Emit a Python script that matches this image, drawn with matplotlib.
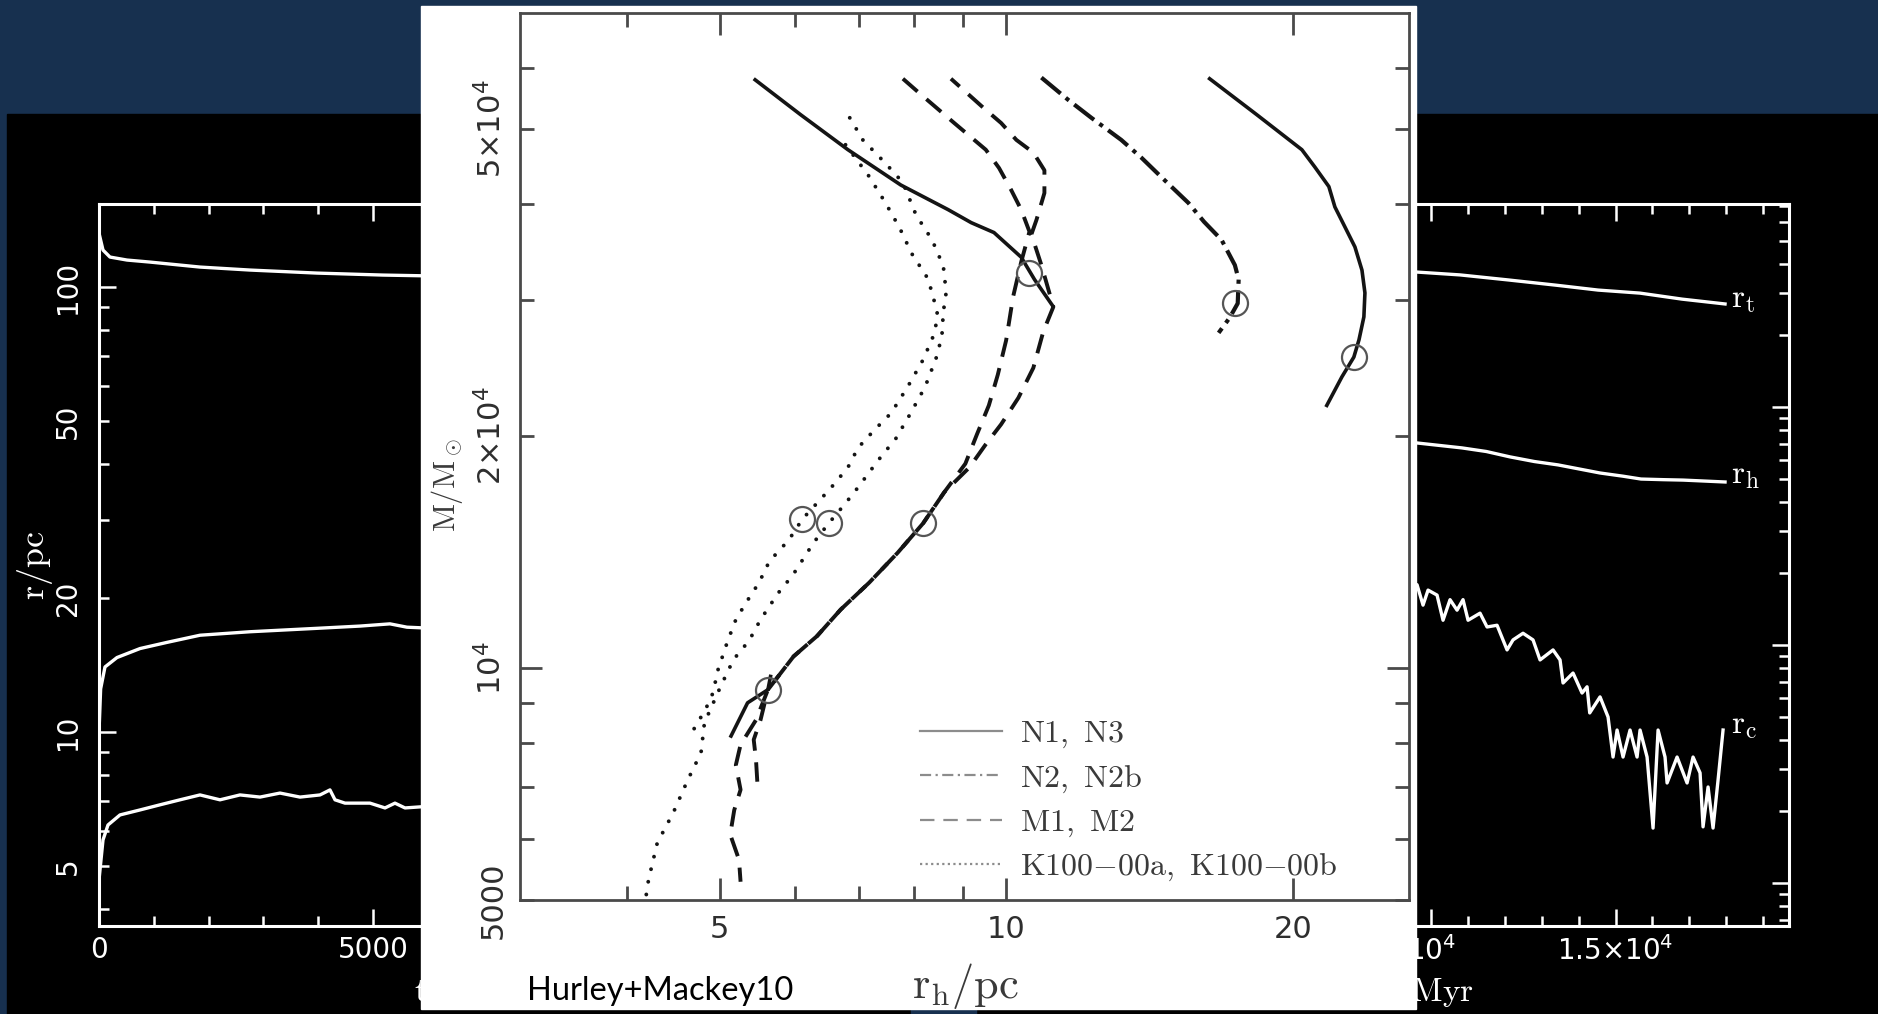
import numpy as np
import matplotlib
matplotlib.use('Agg')
import matplotlib.pyplot as plt
from matplotlib.lines import Line2D
from matplotlib.patches import Rectangle
from matplotlib.ticker import FixedLocator, FuncFormatter, NullFormatter

plt.rcParams['font.family'] = ['DejaVu Sans']

W, H = 1878, 1014

# ---- front figure: half-mass radius r_h [pc] vs cluster mass [Msun]
n1_rh = [5.43, 6.08, 6.82, 7.75, 8.69, 9.19, 9.71, 10.37, 10.71, 11.21, np.nan, 5.66, 5.62, 5.35, 5.13]
n1_m = [58100, 52200, 47000, 42300, 39300, 37800, 36700, 34100, 31900, 29400, np.nan, 9800, 9370, 9010, 8120]

n3_rh = [16.36, 18.33, 20.45, 21.10, 21.83, 22.15, 22.69, 23.25, 23.65, 23.82, 23.76, 23.48, 23.19, 22.53, 21.72]
n3_m = [58100, 52200, 47000, 44640, 42100, 39620, 37340, 35160, 32800, 30650, 28530, 26640, 25300, 23850, 21900]

n2_rh = [10.89, 11.63, 12.29, 13.21, 13.87, 14.56, 15.54, 16.14, 16.84, 17.39, 17.55, 17.51, 17.17, 16.72]
n2_m = [58300, 54500, 51700, 48400, 45900, 43300, 40100, 37900, 35900, 33300, 31900, 29700, 28450, 27200]

m1_rh = [7.79, 8.10, 8.82, 9.52, 9.83, 10.12, 10.37, 10.58, 10.37, 10.17, 10.0, 9.80, 9.59, 9.32, 9.06,
         8.61, 8.18, 7.69, 7.18, 6.70, 6.33, 5.98, 5.62, 5.46, 5.26, 5.20, 5.26, 5.18, 5.13, 5.24, 5.26]
m1_m = [58100, 55700, 50900, 47000, 44500, 41700, 39300, 36800, 33600, 30300, 26600, 24000, 21900, 20100, 18400,
        16900, 15400, 14100, 12900, 11900, 11000, 10350, 9370, 8560, 7950, 7480, 6950, 6540, 6080, 5640, 5280]

m2_rh = [8.75, 9.46, 9.88, 10.25, 10.68, 10.97, 10.97, 10.76, 10.63, 10.89, 11.21, 10.94, 10.68, 10.30, 9.88,
         9.52, 9.15, 8.61, 8.18, 7.69, 7.18, 6.70, 6.33, 5.98, 5.62, 5.52, 5.43, 5.46, 5.48]
m2_m = [58100, 53300, 50900, 48400, 46600, 44200, 41300, 38100, 36500, 33300, 29400, 27300, 24500, 22400, 20700,
        19500, 18200, 16900, 15400, 14100, 12900, 11900, 11000, 10350, 9370, 8560, 8070, 7600, 7050]

ka_rh = [6.78, 7.16, 7.46, 7.73, 7.96, 8.28, 8.42, 8.48, 8.38, 8.18, 7.88, 7.57, 7.27, 6.99, 6.82, 6.54,
         6.11, 5.91, 5.64, 5.50, 5.33, 5.20, 5.10, 4.98, 4.92, 4.83, 4.74, 4.63]
ka_m = [47700, 43600, 40200, 37200, 34450, 31950, 29650, 28550, 26900, 25100, 23150, 21400, 20350, 19300, 18200, 17100,
        15600, 14650, 13750, 12900, 12150, 11550, 10850, 9940, 9280, 8820, 8490, 8070]

kb_rh = [6.85, 7.07, 7.46, 7.79, 8.04, 8.36, 8.59, 8.65, 8.59, 8.56, 8.44, 8.22, 7.92, 7.66, 7.34, 6.99,
         6.78, 6.51, 6.28, 5.97, 5.76, 5.52, 5.37, 5.17, 5.01, 4.82, 4.78, 4.63, 4.47, 4.30, 4.21, 4.18]
kb_m = [51700, 48400, 45200, 42600, 38700, 35900, 33200, 30700, 28950, 26900, 25200, 23150, 21300, 19850, 18600, 17150,
        16350, 15400, 14550, 13200, 12500, 11550, 10850, 10250, 9450, 8490, 7760, 7160, 6490, 5930, 5310, 5010]

# core-collapse markers
cc_rh = [10.58, 17.39, 23.19, 6.11, 6.51, 8.18, 5.62]
cc_m = [32500, 29700, 25300, 15600, 15400, 15400, 9370]

legend_labels = [r'$\mathrm{N1,\ N3}$', r'$\mathrm{N2,\ N2b}$', r'$\mathrm{M1,\ M2}$',
                 r'$\mathrm{K100{-}00a,\ K100{-}00b}$']
front_xticks = [5, 10, 20]
front_yticks = [5000, 20000, 50000]
front_ylabels = ['5000', r'$2{\times}10^4$', r'$5{\times}10^4$']

# ---- background figure (left part): radii in pc vs t [Myr]
l_rt_t = [0, 73, 200, 511, 931, 1843, 2755, 3978, 5182, 6100]
l_rt = [132.2, 121.1, 116.8, 115.0, 113.8, 110.9, 109.2, 107.5, 106.4, 105.9]
l_rh_t = [0, 30, 109, 328, 748, 1241, 1843, 2755, 3978, 4763, 5310, 5620, 6100]
l_rh = [10.0, 12.5, 14.0, 14.7, 15.4, 15.9, 16.5, 16.8, 17.1, 17.3, 17.5, 17.2, 17.1]
l_rc_t = [0, 73, 164, 383, 748, 1113, 1478, 1843, 2208, 2573, 2938, 3303, 3668, 4033, 4215, 4307,
          4489, 4945, 5219, 5401, 5584, 6100]
l_rc = [4.65, 5.72, 6.18, 6.51, 6.68, 6.86, 7.04, 7.22, 7.04, 7.22, 7.14, 7.29, 7.14, 7.22, 7.41, 7.04,
        6.92, 6.92, 6.75, 6.92, 6.75, 6.82]
left_xlabels = {0: '0', 5000: '5000'}

# ---- background figure (right part)
r_rt_t = [9400, 9621, 10786, 12087, 13388, 14526, 15664, 16802, 17967]
r_rt = [37.2, 36.9, 35.9, 34.2, 32.5, 31.0, 30.1, 28.4, 27.1]
r_rh_t = [9400, 9621, 10840, 11500, 12141, 12800, 13442, 14580, 15200, 15691, 16300, 16829, 17967]
r_rh = [7.15, 7.06, 6.73, 6.50, 6.17, 5.90, 5.71, 5.28, 5.12, 4.98, 4.95, 4.93, 4.84]
r_rc_t = [9400, 9621, 9783, 9919, 10163, 10325, 10515, 10705, 10867, 11003, 11328, 11518, 11789, 12060,
          12222, 12493, 12764, 12954, 13306, 13496, 13577, 13848, 14092, 14228, 14300, 14580, 14797,
          14932, 15041, 15203, 15393, 15583, 15664, 15854, 16016, 16152, 16341, 16396, 16667, 16938,
          17100, 17290, 17371, 17507, 17642, 17778, 17913]
r_rc = [1.85, 1.79, 1.47, 1.70, 1.62, 1.27, 1.55, 1.40, 1.55, 1.27, 1.36, 1.19, 1.21, 0.953,
        1.05, 1.12, 1.05, 0.865, 0.953, 0.865, 0.692, 0.762, 0.628, 0.667, 0.518, 0.605, 0.498,
        0.338, 0.439, 0.338, 0.439, 0.338, 0.439, 0.338, 0.170, 0.439, 0.338, 0.263, 0.338, 0.263,
        0.338, 0.290, 0.172, 0.253, 0.170, 0.271, 0.439]
right_xlabels = {10000: r'$10^4$', 15000: r'$1.5{\times}10^4$'}


def box(x0, y0, x1, y1):
    return [x0 / W, 1 - y1 / H, (x1 - x0) / W, (y1 - y0) / H]


def fx(x):
    return x / W


def fy(y):
    return 1 - y / H


fig = plt.figure(figsize=(W / 100, H / 100), dpi=100, facecolor='#17304f')
fig.add_artist(Rectangle((fx(7), 0), 1 - fx(7), fy(114), transform=fig.transFigure,
                         color='black', zorder=0.1))
fig.add_artist(Rectangle((fx(911), 0), 65 / W, 5 / H, transform=fig.transFigure,
                         color='#17304f', zorder=0.2))
fig.add_artist(Rectangle((fx(421), fy(1009)), (1416 - 421) / W, (1009 - 6) / H,
                         transform=fig.transFigure, color='white', zorder=2))


def bg_axes(rect, xlim, ylim, xlabels):
    a = fig.add_axes(rect, zorder=1)
    a.set_facecolor('none')
    a.set_yscale('log')
    a.set_xlim(*xlim)
    a.set_ylim(*ylim)
    for s in a.spines.values():
        s.set_color('white')
        s.set_linewidth(2.2)
    a.tick_params(which='both', direction='in', colors='white', top=True, right=True,
                  labelsize=20, width=1.8)
    a.tick_params(which='major', length=12)
    a.tick_params(which='minor', length=7)
    a.tick_params(axis='x', which='both', pad=7)
    a.tick_params(axis='y', which='both', labelrotation=90, pad=12)
    a.xaxis.set_major_locator(FixedLocator([0, 5000, 10000, 15000]))
    a.xaxis.set_minor_locator(FixedLocator(np.arange(1000, 20000, 1000)))
    a.xaxis.set_major_formatter(FuncFormatter(lambda v, p: xlabels.get(int(round(v)), '')))
    return a


# left background chart
axL = bg_axes(box(99, 204, 1000, 926), (0, 16442), (3.664, 153.7), left_xlabels)
axL.yaxis.set_major_locator(FixedLocator([10, 100]))
axL.yaxis.set_minor_locator(FixedLocator([4, 5, 6, 7, 8, 9, 20, 30, 40, 50, 60, 70, 80, 90]))
axL.yaxis.set_major_formatter(FuncFormatter(lambda v, p: f'{v:g}'))
axL.yaxis.set_minor_formatter(FuncFormatter(lambda v, p: f'{v:g}' if v in (5, 20, 50) else ''))
for t, r in [(l_rt_t, l_rt), (l_rh_t, l_rh), (l_rc_t, l_rc)]:
    axL.plot(t, r, color='white', lw=2.4)
axL.text(fx(35), fy(565), r'$\mathrm{r/pc}$', transform=fig.transFigure, rotation=90,
         ha='center', va='center', color='white', fontsize=26, math_fontfamily='cm')
axL.text(fx(414), fy(1001), r'$\mathrm{t/Myr}$', transform=fig.transFigure,
         ha='left', va='baseline', color='white', fontsize=24, math_fontfamily='cm')

# right background chart
axR = bg_axes(box(1062, 204, 1789, 926), (0, 19700), (0.0659, 71.3), right_xlabels)
axR.yaxis.set_major_locator(FixedLocator([0.1, 1, 10]))
axR.yaxis.set_minor_locator(FixedLocator([k * 10.0 ** e for e in (-2, -1, 0, 1) for k in range(2, 10)]))
axR.yaxis.set_major_formatter(NullFormatter())
axR.yaxis.set_minor_formatter(NullFormatter())
for t, r in [(r_rt_t, r_rt), (r_rh_t, r_rh), (r_rc_t, r_rc)]:
    axR.plot(t, r, color='white', lw=2.4)
for txt, yv in [(r'$\mathrm{r_t}$', 26.3), (r'$\mathrm{r_h}$', 4.79), (r'$\mathrm{r_c}$', 0.425)]:
    axR.text(18130, yv, txt, ha='left', va='baseline', color='white', fontsize=24,
             math_fontfamily='cm')
axR.text(fx(1474), fy(1001), r'$\mathrm{t/Myr}$', transform=fig.transFigure,
         ha='right', va='baseline', color='white', fontsize=24, math_fontfamily='cm')

# front chart
ax = fig.add_axes(box(520, 13, 1409, 900), zorder=3)
ax.set_facecolor('white')
ax.set_xscale('log')
ax.set_yscale('log')
ax.set_xlim(3.085, 26.5)
ax.set_ylim(5000, 70700)

ink = '#141414'
ax.plot(n1_rh, n1_m, color=ink, lw=2.6, solid_capstyle='butt')
ax.plot(n3_rh, n3_m, color=ink, lw=2.6)
ax.plot(n2_rh, n2_m, color=ink, lw=3.0, ls=(0, (6, 1.6, 1, 1.6)))
ax.plot(m1_rh, m1_m, color=ink, lw=2.8, ls=(0, (5, 3)))
ax.plot(m2_rh, m2_m, color=ink, lw=2.8, ls=(2, (5, 3)))
ax.plot(ka_rh, ka_m, color=ink, lw=2.8, ls=(0, (0.01, 3.3)), dash_capstyle='round')
ax.plot(kb_rh, kb_m, color=ink, lw=2.8, ls=(0, (0.01, 3.3)), dash_capstyle='round')
ax.plot(cc_rh, cc_m, ls='none', marker='o', ms=18, mfc='none', mec='#555555', mew=1.6)

for s in ax.spines.values():
    s.set_color('#4a4a4a')
    s.set_linewidth(2.0)
ax.xaxis.set_major_locator(FixedLocator(front_xticks))
ax.xaxis.set_minor_locator(FixedLocator([4, 6, 7, 8, 9]))
ax.xaxis.set_major_formatter(FuncFormatter(lambda v, p: f'{v:g}'))
ax.xaxis.set_minor_formatter(NullFormatter())
ax.yaxis.set_major_locator(FixedLocator([10000]))
ax.yaxis.set_major_formatter(FuncFormatter(lambda v, p: r'$10^4$'))
ax.yaxis.set_minor_locator(FixedLocator([5000, 6000, 7000, 8000, 9000, 20000, 30000, 40000, 50000, 60000]))
ylab = dict(zip(front_yticks, front_ylabels))
ax.yaxis.set_minor_formatter(FuncFormatter(lambda v, p: ylab.get(int(round(v)), '')))
ax.tick_params(which='both', direction='in', top=True, right=True, color='#4a4a4a',
               labelcolor='#2e2e2e', labelsize=22, width=2)
ax.tick_params(which='major', length=16)
ax.tick_params(which='minor', length=10)
ax.tick_params(axis='x', which='both', pad=11)
ax.tick_params(axis='y', which='both', labelrotation=90, pad=9)

handles = [Line2D([], [], color='#8c8c8c', lw=1.6),
           Line2D([], [], color='#8c8c8c', lw=1.6, ls=(0, (5, 2, 1, 2))),
           Line2D([], [], color='#8c8c8c', lw=1.6, ls=(0, (6.5, 4))),
           Line2D([], [], color='#8c8c8c', lw=1.6, ls=(0, (1, 1.5)))]
leg = ax.legend(handles, legend_labels, loc='upper left', bbox_to_anchor=(fx(920), fy(718)),
                bbox_transform=fig.transFigure, frameon=False, fontsize=23, handlelength=2.57,
                handletextpad=0.56, labelspacing=0.38, borderpad=0, borderaxespad=0)
for t in leg.get_texts():
    t.set_math_fontfamily('cm')
    t.set_color('#3a3a3a')

ax.text(fx(447), fy(485), r'$\mathrm{M/M_\odot}$', transform=fig.transFigure, rotation=90,
        ha='center', va='center', fontsize=22, color='#3a3a3a', math_fontfamily='cm')
ax.text(fx(912), fy(998), r'$\mathrm{r_h/pc}$', transform=fig.transFigure,
        ha='left', va='baseline', fontsize=32, color='#3a3a3a', math_fontfamily='cm')

fig.text(fx(527), fy(1000), 'Hurley+Mackey10', family='Lato', fontsize=23.5,
         color='black', va='baseline', zorder=5)

for a in (ax, axL):
    plt.setp(a.yaxis.get_ticklabels(which='both'), va='center')

fig.savefig('out.png', dpi=100, facecolor=fig.get_facecolor())
